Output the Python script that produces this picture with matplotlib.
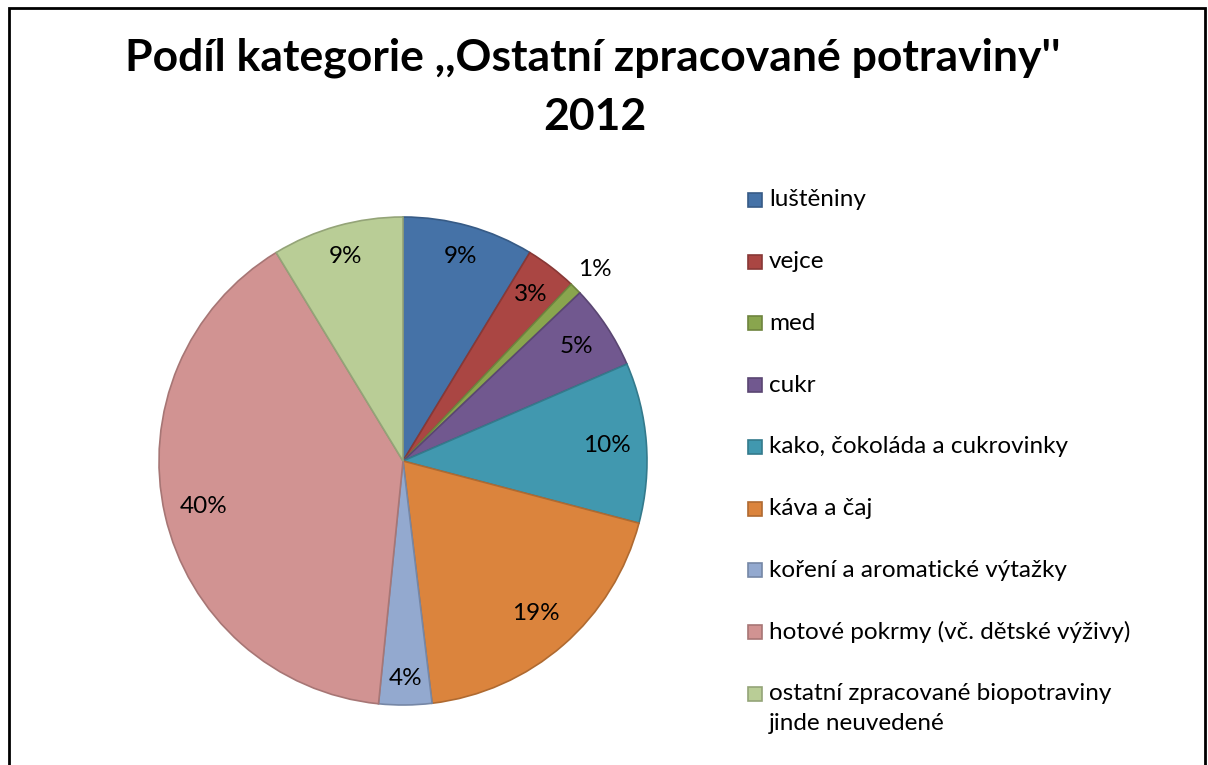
import numpy as np
import matplotlib
matplotlib.use("Agg")
import matplotlib.pyplot as plt
from matplotlib.patches import Rectangle
from matplotlib.colors import to_rgb

plt.rcParams['font.family'] = ['Lato', 'DejaVu Sans']

title_line1 = "Podíl kategorie ,,Ostatní zpracované potraviny''"
title_line2 = "2012"
categories = [
    "luštěniny",
    "vejce",
    "med",
    "cukr",
    "kako, čokoláda a cukrovinky",
    "káva a čaj",
    "koření a aromatické výtažky",
    "hotové pokrmy (vč. dětské výživy)",
    "ostatní zpracované biopotraviny\njinde neuvedené",
]
values = [8.7, 3.4, 0.8, 5.6, 10.6, 19.0, 3.5, 39.7, 8.7]
pct_labels = ["9%", "3%", "1%", "5%", "10%", "19%", "4%", "40%", "9%"]
colors = ["#4572A7", "#AA4643", "#89A54E", "#71588F", "#4198AF",
          "#DB843D", "#93A9CF", "#D19392", "#B9CD96"]
label_dist = [0.87, 0.86, 1.11, 0.85, 0.84, 0.83, 0.89, 0.84, 0.87]

W, H = 1208, 765
fig = plt.figure(figsize=(W / 100, H / 100), dpi=100)

def darker(c, f=0.8):
    r, g, b = to_rgb(c)
    return (r * f, g * f, b * f)

cx, cy, R = 403, 461, 244
ax = fig.add_axes([(cx - R) / W, (H - cy - R) / H, 2 * R / W, 2 * R / H])
wedges, _ = ax.pie(values, colors=colors, startangle=90, counterclock=False,
                   radius=1.0, wedgeprops=dict(linewidth=1.2))
for w, c in zip(wedges, colors):
    w.set_edgecolor(darker(c))
ax.set_xlim(-1, 1)
ax.set_ylim(-1, 1)
ax.set_aspect('equal')
ax.axis('off')

for w, lab, d in zip(wedges, pct_labels, label_dist):
    ang = np.deg2rad((w.theta1 + w.theta2) / 2)
    ax.text(d * np.cos(ang), d * np.sin(ang), lab, ha='center', va='center',
            fontsize=17.5, color='black')

fig.text(593 / W, 1 - 58 / H, title_line1, ha='center', va='center',
         fontsize=32, fontweight='bold')
fig.text(595 / W, 1 - 117 / H, title_line2, ha='center', va='center',
         fontsize=32, fontweight='bold')

# legend
y0, dy = 200, 61.7
for i, (cat, c) in enumerate(zip(categories, colors)):
    y = y0 + i * dy
    fig.patches.append(Rectangle((748 / W, 1 - (y + 7) / H), 14 / W, 14 / H,
                                 transform=fig.transFigure,
                                 facecolor=c, edgecolor=darker(c), linewidth=1.2))
    lines = cat.split("\n")
    for j, ln in enumerate(lines):
        fig.text(769 / W, 1 - (y + 30 * j) / H, ln, ha='left', va='center',
                 fontsize=17.5)

# border
fig.patches.append(Rectangle((9 / W, -0.05), (1205 - 9) / W, 1 - 8 / H + 0.05,
                             transform=fig.transFigure, fill=False,
                             edgecolor='black', linewidth=2))

fig.savefig("out.png", dpi=100)
